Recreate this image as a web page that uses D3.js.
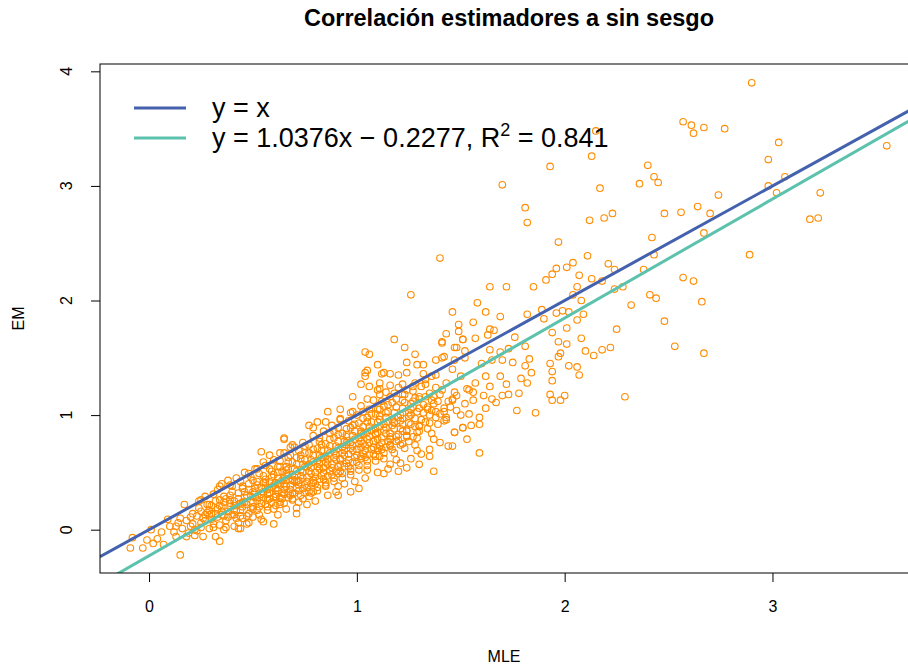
<!DOCTYPE html>
<html>
<head>
<meta charset="utf-8">
<script src="https://cdn.jsdelivr.net/npm/d3@7"></script>
<style>
  body { margin: 0; background: #fff; }
  svg text { font-family: "Liberation Sans", Arial, sans-serif; }
</style>
</head>
<body>
<script>
// scattered points [MLE, EM]
var outerPoints = [
  [2.90,3.90],[2.57,3.56],[2.61,3.53],[2.62,3.46],[2.67,3.51],[2.77,3.50],[3.03,3.38],[2.40,3.18],[2.98,3.23],
  [2.43,3.08],[2.45,3.03],[2.36,3.02],[3.06,3.08],[2.98,3.00],[3.02,2.94],[3.23,2.94],[2.74,2.92],[3.55,3.35],
  [2.64,2.82],[2.56,2.77],[2.48,2.76],[2.70,2.76],[3.18,2.71],[3.22,2.72],[2.42,2.55],[2.67,2.59],[2.43,2.40],
  [2.89,2.40],[2.38,2.27],[2.57,2.20],[2.62,2.17],[2.41,2.05],[2.44,2.02],[2.66,1.99],[2.48,1.82],[2.53,1.60],
  [2.67,1.54],
  [2.13,3.26],[2.15,3.48],[1.93,3.17],[1.70,3.01],[2.17,2.98],[1.81,2.81],[1.82,2.68],[2.12,2.70],[2.19,2.72],
  [2.23,2.76],[1.97,2.51],[1.40,2.37],[2.11,2.39],[2.04,2.33],[2.01,2.29],[1.96,2.28],[2.21,2.32],[1.26,2.05]
];

var midPoints = [
  [1.94,2.23],[2.24,2.27],[2.07,2.22],[1.91,2.18],[2.13,2.19],[1.64,2.12],[1.72,2.12],[1.85,2.12],[2.06,2.12],
  [2.18,2.17],[2.24,2.10],[2.28,2.12],[2.04,2.05],[2.08,2.00],[2.32,1.96],[1.58,1.98],[1.46,1.90],[1.62,1.90],
  [1.82,1.88],[1.89,1.92],[1.96,1.89],[1.99,1.91],[2.02,1.90],[2.09,1.88],[2.06,1.83],[1.69,1.86],[1.90,1.84],
  [1.56,1.81],[1.49,1.79],[1.43,1.71],[1.49,1.73],[1.64,1.75],[1.66,1.74],[1.57,1.67],[1.63,1.70],[1.51,1.66],
  [1.76,1.68],[1.94,1.72],[2.01,1.76],[2.08,1.67],[2.25,1.75],[1.41,1.64],[1.97,1.64],[2.01,1.62],[1.81,1.60],
  [2.10,1.56],[2.14,1.52],[2.18,1.57],[2.22,1.59],[1.48,1.59],[1.52,1.56],[1.64,1.57],[1.69,1.55],[1.73,1.58],
  [1.42,1.51],[1.47,1.48],[1.52,1.50],[1.60,1.45],[1.65,1.48],[1.70,1.48],[1.75,1.46],[1.83,1.49],[1.97,1.51],
  [1.98,1.54],[1.93,1.45],[1.81,1.43],[2.02,1.43],[2.06,1.42],[1.94,1.38],[2.07,1.35],[1.84,1.37],[1.79,1.32],
  [1.82,1.28],[1.94,1.30],[1.46,1.40],[1.62,1.34],[1.57,1.28],[1.64,1.25],[1.69,1.34],[1.72,1.27],[1.53,1.23],
  [1.48,1.17],[1.56,1.20],[1.61,1.17],[1.65,1.14],[1.70,1.17],[1.73,1.18],[1.78,1.19],[1.93,1.18],[2.00,1.17],
  [1.94,1.13],[1.98,1.13],[2.29,1.16],[1.46,1.13],[1.67,1.11],[1.56,1.13],[1.62,1.06],[1.77,1.04],[1.86,1.02],
  [1.42,1.06],[1.50,1.00],[1.59,0.98],[1.59,0.92],[1.55,0.91],[1.51,0.89],[1.47,0.85],[1.43,0.98],
  [1.18,1.66],[1.23,1.59],[1.41,1.63],[1.47,1.59],[1.51,1.66],[1.04,1.55],[1.06,1.53],[1.28,1.53],[1.10,1.44],
  [1.24,1.46],[1.29,1.44],[1.32,1.44],[1.38,1.48],[1.41,1.50],[1.04,1.37],[1.05,1.39],[1.12,1.36],[1.16,1.36],
  [1.20,1.35],[1.24,1.37],[1.32,1.36],[1.36,1.34],[1.02,1.27],[1.06,1.25],[1.11,1.23],[1.16,1.26],[1.22,1.27],
  [1.27,1.25],[1.33,1.27],[1.38,1.24],[1.43,1.28],[1.50,1.34],[1.54,1.22],[0.98,1.16],[1.05,1.14],[1.11,1.18],
  [1.16,1.16],[1.22,1.13],[1.30,1.16],[1.36,1.13],[1.46,1.14],[1.52,1.10],[0.86,1.03],[0.92,1.05],[0.97,1.02],
  [1.03,1.03],[1.10,1.05],[1.14,1.02],[1.19,1.07],[1.27,1.07],[1.34,1.05],[1.38,1.03],[1.48,1.04],[1.54,1.01],
  [0.77,0.91],[0.81,0.94],[0.85,0.94],[0.92,0.96],[0.98,0.91],[1.05,0.94],[1.11,0.96],[1.18,0.94],[1.25,0.93],
  [1.30,0.91],[1.42,0.95],[1.47,0.85],[1.51,0.89],[0.65,0.79],[0.79,0.89],[0.89,0.86],[0.95,0.83],[1.02,0.84],
  [1.09,0.84],[1.16,0.81],[1.22,0.86],[1.27,0.81],[1.37,0.79],[1.53,0.79],[0.68,0.72],[0.75,0.73],[0.82,0.77],
  [0.95,0.74],[1.03,0.75],[1.10,0.71],[1.16,0.73],[1.22,0.75],[1.29,0.69],[1.44,0.73],[1.46,0.73],[1.59,0.67],
  [0.73,0.65],[0.84,0.63],[0.92,0.62],[1.02,0.64],[1.11,0.64],[1.16,0.57],[1.19,0.61],[1.24,0.54],[1.30,0.57],
  [1.35,0.64],[1.13,0.49],[1.20,0.51],[1.37,0.51],[0.66,0.52],[0.76,0.55],[0.84,0.54],[0.91,0.49],[0.97,0.51],
  [1.05,0.52],[0.71,0.42],[0.79,0.41],[0.85,0.39],[0.91,0.38],[0.97,0.33],[1.01,0.36],[0.69,0.32],[0.79,0.33],
  [0.91,0.30],[1.04,1.34],[1.13,1.37],[1.11,1.28],[1.10,1.22]
];

var lowPoints = [
  [0.65,0.80],[0.69,0.74],[0.54,0.68],[0.58,0.65],[0.63,0.67],[0.67,0.63],[0.55,0.59],[0.48,0.49],[0.52,0.53],
  [0.62,0.55],[0.34,0.38],[0.39,0.39],[0.45,0.38],[0.50,0.43],[0.56,0.41],[0.63,0.39],[0.69,0.43],[0.74,0.27],
  [0.75,0.32],[0.69,0.27],[0.65,0.31],[0.17,0.22],[0.25,0.26],[0.29,0.22],[0.34,0.26],[0.39,0.23],[0.45,0.24],
  [0.50,0.20],[0.57,0.20],[0.63,0.22],[0.71,0.19],[0.09,0.09],[0.15,0.10],[0.20,0.11],[0.25,0.16],[0.29,0.13],
  [0.35,0.13],[0.41,0.13],[0.45,0.10],[0.50,0.11],[0.54,0.09],[0.60,0.05],[0.44,0.01],[0.48,0.06],[0.78,0.32],
  [0.01,0.00],[0.06,-0.02],[0.13,0.03],[0.20,0.03],[0.25,0.02],[0.31,0.02],[0.36,0.00],[0.41,0.03],[0.26,-0.06],
  [0.32,-0.06],[0.34,-0.10],[-0.08,-0.07],[-0.09,-0.16],[-0.03,-0.16],[-0.01,-0.09],[0.02,-0.12],[0.07,-0.13],
  [0.15,-0.22],[0.13,-0.06],[0.18,-0.06],[0.22,-0.05],[0.04,-0.08],[0.43,0.01]
];

// the solid core of the cloud, where single circles cannot be told apart
var corePoints = [
  [0.21,0.05],[0.23,0.12],[0.24,0.19],[0.27,0.08],[0.28,0.15],[0.30,0.21],[0.31,0.05],[0.33,0.11],[0.33,0.18],
  [0.36,0.24],[0.37,0.08],[0.38,0.16],[0.39,0.30],[0.41,0.21],[0.42,0.10],[0.43,0.27],[0.44,0.17],[0.46,0.33],
  [0.47,0.22],[0.48,0.14],[0.49,0.29],[0.51,0.36],[0.52,0.25],[0.52,0.17],[0.54,0.31],[0.55,0.41],[0.56,0.22],
  [0.57,0.35],[0.58,0.27],[0.59,0.46],[0.60,0.18],[0.60,0.39],[0.61,0.31],[0.62,0.50],[0.63,0.24],[0.64,0.43],
  [0.65,0.35],[0.66,0.55],[0.67,0.28],[0.67,0.47],[0.68,0.39],[0.69,0.59],[0.70,0.32],[0.71,0.51],[0.72,0.43],
  [0.72,0.24],[0.73,0.62],[0.74,0.36],[0.75,0.55],[0.76,0.46],[0.77,0.67],[0.77,0.29],[0.78,0.40],[0.79,0.59],
  [0.80,0.50],[0.81,0.71],[0.81,0.34],[0.82,0.44],[0.83,0.63],[0.84,0.54],[0.85,0.75],[0.85,0.38],[0.86,0.47],
  [0.87,0.67],[0.88,0.57],[0.89,0.80],[0.89,0.42],[0.90,0.51],[0.91,0.71],[0.92,0.61],[0.93,0.84],[0.93,0.45],
  [0.94,0.55],[0.95,0.76],[0.96,0.66],[0.97,0.89],[0.97,0.48],[0.98,0.59],[0.99,0.79],[1.00,0.70],[1.01,0.93],
  [1.01,0.52],[1.02,0.62],[1.03,0.83],[1.04,0.73],[1.05,0.98],[1.05,0.56],[1.06,0.66],[1.07,0.87],[1.08,0.77],
  [1.09,1.01],[1.09,0.60],[1.10,0.69],[1.11,0.90],[1.12,0.80],[1.13,1.08],[1.13,0.62],[1.14,0.72],[1.15,0.94],
  [1.16,0.84],[1.17,1.11],[1.18,0.67],[1.19,0.77],[1.20,0.98],[1.21,0.88],[1.22,1.18],[1.23,0.71],[1.24,0.81],
  [1.25,1.02],[1.26,0.92],[1.27,1.12],[1.28,0.74],[1.29,0.85],[1.30,1.06],[1.31,0.96],[1.33,1.16],[1.34,0.88],
  [1.35,1.00],[1.37,1.10],[1.39,0.92],[1.40,1.18],[1.42,1.03],[1.44,1.12],
  [0.26,0.10],[0.29,0.17],[0.32,0.14],[0.35,0.20],[0.37,0.27],[0.40,0.13],[0.41,0.25],[0.45,0.20],[0.46,0.28],
  [0.50,0.24],[0.51,0.32],[0.53,0.20],[0.55,0.28],[0.56,0.37],[0.58,0.32],[0.59,0.24],[0.61,0.41],[0.62,0.34],
  [0.63,0.28],[0.65,0.45],[0.66,0.38],[0.67,0.32],[0.69,0.48],[0.70,0.42],[0.71,0.36],[0.73,0.52],[0.74,0.45],
  [0.75,0.39],[0.77,0.57],[0.78,0.49],[0.79,0.43],[0.81,0.60],[0.82,0.53],[0.83,0.47],[0.85,0.64],[0.86,0.57],
  [0.87,0.51],[0.89,0.68],[0.90,0.61],[0.91,0.55],[0.93,0.72],[0.94,0.65],[0.95,0.58],[0.97,0.76],[0.98,0.69],
  [0.99,0.63],[1.01,0.80],[1.02,0.72],[1.03,0.66],[1.05,0.85],[1.06,0.76],[1.07,0.70],[1.09,0.88],[1.10,0.79],
  [1.11,0.73],[1.13,0.92],[1.14,0.84],[1.15,0.77],[1.17,0.96],[1.18,0.88],[1.19,0.81],[1.21,1.00],[1.22,0.92],
  [1.24,0.87],[1.26,1.05],[1.28,0.97],[1.30,0.90],[1.32,1.09],[1.36,1.04],
  [0.22,0.00],[0.25,0.06],[0.27,0.13],[0.28,0.22],[0.30,0.09],[0.32,0.25],[0.34,0.04],[0.35,0.16],[0.36,0.29],
  [0.38,0.11],[0.39,0.20],[0.40,0.33],[0.42,0.16],[0.43,0.06],[0.44,0.23],[0.45,0.36],[0.47,0.12],[0.47,0.30],
  [0.48,0.40],[0.50,0.18],[0.50,0.33],[0.52,0.42],[0.53,0.13],[0.53,0.28],[0.54,0.37],[0.55,0.47],[0.57,0.17],
  [0.57,0.31],[0.58,0.42],[0.59,0.51],[0.60,0.28],[0.61,0.21],[0.61,0.36],[0.62,0.45],[0.63,0.55],[0.64,0.32],
  [0.65,0.23],[0.65,0.40],[0.66,0.49],[0.67,0.59],[0.68,0.35],[0.69,0.26],[0.69,0.44],[0.70,0.53],[0.71,0.63],
  [0.72,0.39],[0.73,0.30],[0.73,0.47],[0.74,0.57],[0.75,0.67],[0.76,0.42],[0.77,0.33],[0.77,0.51],[0.78,0.61],
  [0.79,0.70],[0.80,0.46],[0.81,0.37],[0.81,0.55],[0.82,0.65],[0.83,0.74],[0.84,0.50],[0.85,0.41],[0.85,0.59],
  [0.86,0.69],[0.87,0.79],[0.88,0.54],[0.89,0.45],[0.89,0.63],[0.90,0.73],[0.91,0.83],[0.92,0.57],[0.93,0.49],
  [0.93,0.67],[0.94,0.77],[0.95,0.88],[0.96,0.61],[0.97,0.53],[0.97,0.71],[0.98,0.82],[0.99,0.92],[1.00,0.65],
  [1.01,0.56],[1.01,0.75],[1.02,0.86],[1.03,0.97],[1.04,0.69],[1.05,0.60],[1.05,0.79],[1.06,0.90],[1.07,1.01],
  [1.08,0.72],[1.09,0.64],[1.09,0.83],[1.10,0.94],[1.11,1.05],[1.12,0.76],[1.13,0.67],[1.13,0.87],[1.14,0.98],
  [1.15,1.09],[1.16,0.79],[1.17,0.70],[1.17,0.91],[1.18,1.02],[1.19,1.14],[1.20,0.83],[1.21,0.74],[1.21,0.95],
  [1.22,1.06],[1.23,1.18],[1.24,0.86],[1.25,0.77],[1.25,0.99],[1.26,1.10],[1.27,1.21],[1.28,0.90],[1.29,0.80],
  [1.29,1.03],[1.30,1.14],[1.31,1.25],[1.33,0.94],[1.34,1.07],[1.35,1.19],[1.36,0.84],[1.38,0.98],[1.39,1.12],
  [1.41,1.22],[1.43,0.96],[1.45,1.07],[1.47,1.20],
  [0.30,0.14],[0.34,0.21],[0.36,0.12],[0.39,0.26],[0.41,0.17],[0.43,0.32],[0.44,0.12],[0.46,0.24],[0.48,0.35],
  [0.49,0.19],[0.51,0.28],[0.52,0.39],[0.54,0.23],[0.55,0.33],[0.56,0.44],[0.57,0.26],[0.59,0.37],[0.60,0.48],
  [0.61,0.29],[0.62,0.40],[0.64,0.51],[0.64,0.27],[0.66,0.43],[0.67,0.53],[0.68,0.30],[0.70,0.46],[0.71,0.57],
  [0.72,0.34],[0.74,0.50],[0.75,0.61],[0.76,0.37],[0.78,0.54],[0.79,0.65],[0.80,0.40],[0.82,0.57],[0.83,0.69],
  [0.84,0.44],[0.86,0.61],[0.87,0.73],[0.88,0.48],[0.90,0.65],[0.91,0.77],[0.92,0.51],[0.94,0.69],[0.95,0.81],
  [0.96,0.55],[0.98,0.73],[0.99,0.86],[1.00,0.59],[1.02,0.77],[1.03,0.90],[1.04,0.63],[1.06,0.81],[1.07,0.94],
  [1.08,0.66],[1.10,0.85],[1.11,0.99],[1.12,0.70],[1.14,0.89],[1.15,1.03],[1.16,0.74],[1.18,0.93],[1.19,1.07],
  [1.20,0.78],[1.22,0.97],[1.23,1.11],[1.24,0.82],[1.26,1.00],[1.28,1.15],[1.30,0.86],[1.32,1.02],[1.35,0.93],
  [1.37,1.16],[1.40,1.01]
];

// fringe of the core, above the y = x line and below the fit
var fringePoints = [
  [0.10,0.03],[0.12,-0.02],[0.14,0.06],[0.16,0.01],[0.18,0.08],[0.19,-0.03],[0.21,0.14],[0.23,-0.01],[0.24,0.25],
  [0.27,0.29],[0.29,0.01],[0.31,0.31],[0.33,0.35],[0.35,0.40],[0.37,0.02],[0.38,0.43],[0.40,0.38],[0.42,0.45],
  [0.44,0.42],[0.46,0.50],[0.47,0.05],[0.49,0.46],[0.51,0.53],[0.53,0.49],[0.55,0.07],[0.56,0.56],[0.58,0.53],
  [0.60,0.61],[0.62,0.13],[0.63,0.60],[0.65,0.67],[0.66,0.18],[0.68,0.65],[0.70,0.72],[0.71,0.14],[0.72,0.69],
  [0.74,0.76],[0.76,0.22],[0.77,0.74],[0.79,0.82],[0.80,0.25],[0.82,0.80],[0.84,0.86],[0.86,0.30],[0.87,0.84],
  [0.88,0.91],[0.90,0.33],[0.91,0.89],[0.92,0.97],[0.94,0.40],[0.96,0.95],[0.98,1.03],[0.99,0.42],[1.00,1.00],
  [1.02,1.08],[1.04,0.45],[1.06,1.05],[1.08,1.13],[1.10,0.50],[1.12,1.12],[1.14,1.20],[1.15,0.53],[1.18,1.19],
  [1.20,1.24],[1.21,0.58],[1.24,1.22],[1.26,0.62],[1.28,1.28],[1.31,0.66],[1.33,1.31],[1.35,0.70],[1.38,1.35],
  [1.40,0.76]
];

var xTicks = [0, 1, 2, 3];
var yTicks = [0, 1, 2, 3, 4];
var fitSlope = 1.0376, fitIntercept = -0.2277;
var legendLabels = ["y = x", "y = 1.0376x \u2212 0.2277, R"];

var margin = {top: 64, left: 100},
    width = 809, height = 509;

var svg = d3.select("body").append("svg")
  .attr("width", 908).attr("height", 668);

var x = d3.scaleLinear().domain([-0.236, 3.657]).range([0, width]);
var y = d3.scaleLinear().domain([-0.378, 4.064]).range([height, 0]);

svg.append("text").text("Correlación estimadores a sin sesgo")
  .attr("x", 509).attr("y", 26)
  .attr("text-anchor", "middle")
  .style("font-weight", "bold").style("font-size", "23.5px");

var main = svg.append("g")
  .attr("transform", "translate(" + margin.left + "," + margin.top + ")");

main.append("clipPath").attr("id", "clip")
  .append("rect").attr("width", width).attr("height", height);

// x axis
var xAxis = main.append("g").attr("transform", "translate(0," + height + ")")
  .call(d3.axisBottom(x).tickValues(xTicks).tickSize(9).tickPadding(19).tickFormat(d3.format("d")));
xAxis.select(".domain").remove();
xAxis.selectAll("text").style("font-size", "16px").attr("fill", "#000");

// y axis, labels parallel to the axis as R does
var yAxis = main.append("g")
  .call(d3.axisLeft(y).tickValues(yTicks).tickSize(9).tickFormat(""));
yAxis.select(".domain").remove();
main.selectAll(".ylab").data(yTicks).enter().append("text")
  .attr("class", "ylab")
  .attr("transform", function(d) { return "translate(-28," + y(d) + ") rotate(-90)"; })
  .attr("text-anchor", "middle")
  .style("font-size", "16px")
  .text(function(d) { return d; });

svg.append("text").text("MLE")
  .attr("x", margin.left + width / 2 - 0.5).attr("y", 662)
  .attr("text-anchor", "middle").style("font-size", "16px");
svg.append("text").text("EM")
  .attr("transform", "translate(24," + (margin.top + height / 2) + ") rotate(-90)")
  .attr("text-anchor", "middle").style("font-size", "16px");

var plot = main.append("g").attr("clip-path", "url(#clip)");

var allPoints = outerPoints.concat(midPoints, lowPoints, corePoints, fringePoints);
plot.selectAll("circle").data(allPoints).enter().append("circle")
  .attr("cx", function(d) { return x(d[0]); })
  .attr("cy", function(d) { return y(d[1]); })
  .attr("r", 3.3)
  .attr("fill", "none")
  .attr("stroke", "#ff8c00")
  .attr("stroke-width", 1.1);

var xr = x.domain();
plot.append("line")
  .attr("x1", x(xr[0])).attr("y1", y(xr[0]))
  .attr("x2", x(xr[1])).attr("y2", y(xr[1]))
  .attr("stroke", "#4461ae").attr("stroke-width", 3);
plot.append("line")
  .attr("x1", x(xr[0])).attr("y1", y(fitSlope * xr[0] + fitIntercept))
  .attr("x2", x(xr[1])).attr("y2", y(fitSlope * xr[1] + fitIntercept))
  .attr("stroke", "#5cc2ae").attr("stroke-width", 3);

main.append("rect").attr("width", width).attr("height", height)
  .attr("fill", "none").attr("stroke", "#000").attr("stroke-width", 1);

// legend
var legend = main.append("g").attr("transform", "translate(34,44)");
var legColors = ["#4461ae", "#5cc2ae"];
legColors.forEach(function(c, i) {
  legend.append("line").attr("x1", 0).attr("x2", 52)
    .attr("y1", i * 30).attr("y2", i * 30)
    .attr("stroke", c).attr("stroke-width", 3);
});
legend.append("text").attr("x", 78).attr("y", 9)
  .style("font-size", "27px").text(legendLabels[0]);
var t2 = legend.append("text").attr("x", 78).attr("y", 39).style("font-size", "27px");
t2.append("tspan").text(legendLabels[1]);
t2.append("tspan").attr("dy", -11).style("font-size", "18px").text("2");
t2.append("tspan").attr("dy", 11).text(" = 0.841");
</script>
</body>
</html>
